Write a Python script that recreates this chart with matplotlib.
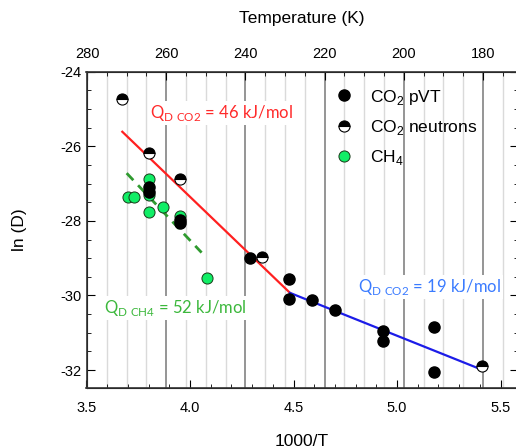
import matplotlib
matplotlib.use("Agg")
import matplotlib.pyplot as plt
from matplotlib.ticker import MultipleLocator

plt.rcParams['font.family'] = ['Liberation Sans', 'DejaVu Sans']
plt.rcParams['mathtext.fontset'] = 'custom'
plt.rcParams['mathtext.rm'] = 'Liberation Sans'
plt.rcParams['axes.unicode_minus'] = False

# CO2 pVT (filled black)
pvt_x = [3.80, 3.80, 3.95, 3.95, 4.29, 4.48, 4.48, 4.59, 4.70, 4.93, 4.93, 5.18, 5.18]
pvt_y = [-27.10, -27.22, -27.97, -28.05, -29.00, -29.55, -30.10, -30.12, -30.40,
         -30.94, -31.21, -30.85, -32.06]

# CO2 neutrons (half filled)
neu_x = [3.67, 3.80, 3.95, 4.35, 5.41]
neu_y = [-24.73, -26.17, -26.87, -28.96, -31.88]

# CH4 (green)
ch4_x = [3.70, 3.73, 3.80, 3.80, 3.80, 3.87, 3.95, 4.08]
ch4_y = [-27.36, -27.36, -26.87, -27.31, -27.75, -27.62, -27.88, -29.53]

# fitted lines
fit_hi_x = [3.673, 4.483]
fit_hi_y = [-25.61, -29.93]
fit_lo_x = [4.483, 5.41]
fit_lo_y = [-29.93, -31.99]
fit_ch4_x = [3.694, 4.056]
fit_ch4_y = [-26.72, -28.85]

fig = plt.figure(figsize=(5.16, 4.48), dpi=100)
ax = fig.add_axes([86.5 / 516, 1 - 388 / 448, 431 / 516, 316.3 / 448])

# top temperature axis (linear in T, like the original)
ax2 = ax.twiny()
ax2.set_xlim(280.13, 171.29)
ax2.xaxis.set_major_locator(MultipleLocator(20))
ax2.xaxis.set_minor_locator(MultipleLocator(5))
ax2.grid(which='major', axis='x', color='#8c8c8c', lw=1.3)
ax2.grid(which='minor', axis='x', color='#dadada', lw=1.0)
ax2.tick_params(which='both', direction='in', labelsize=10.5, pad=8)
ax2.tick_params(which='major', length=6)
ax2.tick_params(which='minor', length=3)
ax2.set_xlabel('Temperature (K)', fontsize=12.5, labelpad=17)
ax.set_zorder(ax2.get_zorder() + 1)
ax.patch.set_visible(False)

ax.plot(fit_hi_x, fit_hi_y, color='#ff2020', lw=1.6, zorder=2)
ax.plot(fit_lo_x, fit_lo_y, color='#1c1ce8', lw=1.6, zorder=2)
ax.plot(fit_ch4_x, fit_ch4_y, color='#2f9a2f', lw=2.0, ls=(0, (3.5, 2.5)), zorder=2)

h_ch4, = ax.plot(ch4_x, ch4_y, 'o', ms=8, mfc='#11ee66', mec='#1a3a1a', mew=0.7,
                 ls='none', label='CH$_4$', zorder=3)
h_pvt, = ax.plot(pvt_x, pvt_y, 'o', ms=8, mfc='black', mec='black',
                 ls='none', label='CO$_2$ pVT', zorder=4)
h_neu, = ax.plot(neu_x, neu_y, 'o', ms=8, fillstyle='top', mfc='black',
                 markerfacecoloralt='white', mec='black', mew=0.8,
                 ls='none', label='CO$_2$ neutrons', zorder=4)

ax.legend(handles=[h_pvt, h_neu, h_ch4], loc='upper left',
          bbox_to_anchor=(0.577, 0.95), frameon=False, fontsize=12.5,
          handlelength=1.0, handletextpad=1.0, labelspacing=0.65,
          borderpad=0, borderaxespad=0)

tfont = ['Lato', 'DejaVu Sans']
box = dict(facecolor='white', edgecolor='none', pad=1.5)
ax.text(0.148, 0.869, r'Q$_{\mathregular{D\ CO2}}$ = 46 kJ/mol', transform=ax.transAxes,
        color='#ff2a2a', fontsize=12, family=tfont, va='center', bbox=box, zorder=5)
ax.text(0.631, 0.319, r'Q$_{\mathregular{D\ CO2}}$ = 19 kJ/mol', transform=ax.transAxes,
        color='#3a7bff', fontsize=12, family=tfont, va='center', bbox=box, zorder=5)
ax.text(0.041, 0.253, r'Q$_{\mathregular{D\ CH4}}$ = 52 kJ/mol', transform=ax.transAxes,
        color='#3cb83c', fontsize=12, family=tfont, va='center', bbox=box, zorder=5)

ax.set_xlim(3.5, 5.582)
ax.set_ylim(-32.48, -24)
ax.xaxis.set_major_locator(MultipleLocator(0.5))
ax.xaxis.set_minor_locator(MultipleLocator(0.1))
ax.yaxis.set_major_locator(MultipleLocator(2))
ax.yaxis.set_minor_locator(MultipleLocator(0.5))
ax.xaxis.set_major_formatter(matplotlib.ticker.FormatStrFormatter('%.1f'))
ax.tick_params(which='both', direction='in', labelsize=10.5, right=True)
ax.tick_params(axis='x', which='both', pad=9)
ax.tick_params(which='major', length=6)
ax.tick_params(which='minor', length=3)
ax.set_xlabel('1000/T', fontsize=12.5, labelpad=14)
ax.set_ylabel('ln (D)', fontsize=12.5, labelpad=24)
for s in ax.spines.values():
    s.set_color('#333333')
    s.set_linewidth(1.2)

fig.savefig('out.png', dpi=100)
